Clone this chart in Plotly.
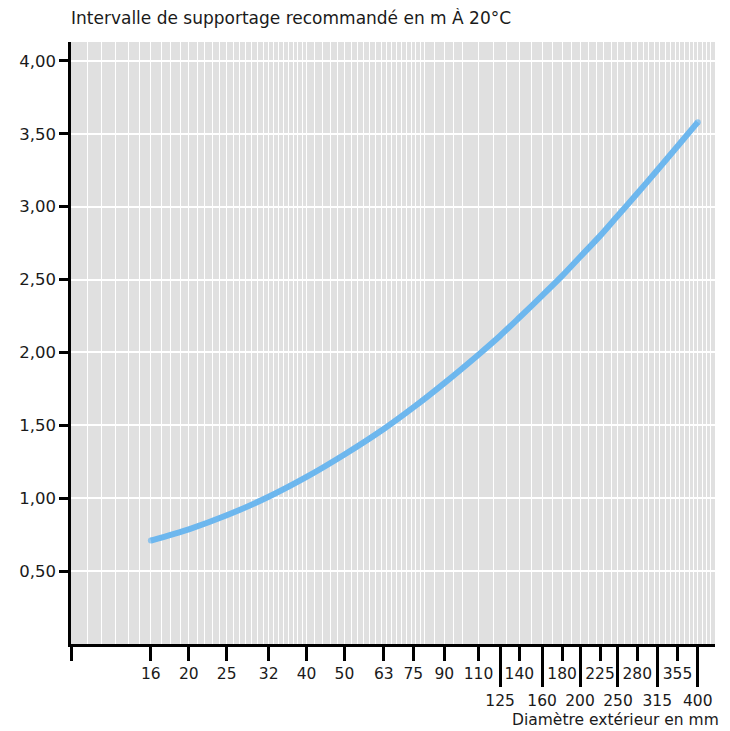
import plotly.graph_objects as go

# ---- data ----
diametres = [16, 20, 25, 32, 40, 50, 63, 75, 90, 110, 125, 140, 160, 180, 200, 225, 250, 280, 315, 355, 400]
intervalle = [0.71, 0.787, 0.883, 1.01, 1.146, 1.30, 1.475, 1.623, 1.79, 1.985, 2.115, 2.24, 2.39, 2.525,
              2.655, 2.80, 2.94, 3.09, 3.25, 3.415, 3.58]

ticks_courts = [10, 16, 20, 25, 32, 40, 50, 63, 75, 90, 110, 140, 180, 225, 280, 355]
labels_courts = ["", "16", "20", "25", "32", "40", "50", "63", "75", "90", "110", "140", "180", "225", "280", "355"]
ticks_longs = [125, 160, 200, 250, 315, 400]
labels_longs = ["125", "160", "200", "250", "315", "400"]

y_ticks = [0.5, 1.0, 1.5, 2.0, 2.5, 3.0, 3.5, 4.0]

titre_y = "Intervalle de supportage recommandé en m À 20°C"
titre_x = "Diamètre extérieur en mm"

# minor vertical grid
grille = (list(range(11, 40)) + list(range(40, 80, 2)) + [80, 85, 90, 95]
          + list(range(100, 450, 10)))

FONT = "'DejaVu Sans', Verdana, sans-serif"
TXT = "#1a1a1a"
BLUE = "#6DB7EE"
XRANGE = [1.0, 2.646]
YRANGE = [0, 4.13]

n = len(diametres)
cap_sizes = [6 if i in (0, n - 1) else 0 for i in range(n)]

fig = go.Figure()
fig.add_trace(go.Scatter(
    x=diametres, y=intervalle, mode="lines+markers",
    line=dict(color=BLUE, width=6, shape="spline", smoothing=0.7),
    marker=dict(size=cap_sizes, color=BLUE, line=dict(width=0)),
    showlegend=False, hoverinfo="x+y",
))
fig.add_trace(go.Scatter(
    x=ticks_longs, y=[None] * len(ticks_longs), xaxis="x2", mode="markers",
    showlegend=False, hoverinfo="skip", opacity=0,
))

fig.update_layout(
    width=730, height=731,
    margin=dict(l=63, r=23, t=34, b=95, autoexpand=False),
    paper_bgcolor="white",
    plot_bgcolor="#E0E0E0",
    separators=", ",
    font=dict(family=FONT, size=15, color=TXT),
    xaxis=dict(
        type="log", range=XRANGE, automargin=False,
        tickmode="array", tickvals=ticks_courts, ticktext=labels_courts,
        ticks="outside", ticklen=14, tickwidth=2.5, tickcolor="black",
        showline=True, linecolor="black", linewidth=2.5,
        showgrid=False, zeroline=False,
        tickfont=dict(size=15.5, family=FONT, color=TXT),
        minor=dict(tickmode="array", tickvals=grille, showgrid=True,
                   gridcolor="white", gridwidth=1.2, ticks=""),
    ),
    xaxis2=dict(
        type="log", range=XRANGE, overlaying="x", anchor="y", side="bottom",
        automargin=False,
        tickmode="array", tickvals=ticks_longs, ticktext=labels_longs,
        ticks="outside", ticklen=42, tickwidth=2.5, tickcolor="black",
        showline=False, showgrid=False, zeroline=False,
        tickfont=dict(size=15.5, family=FONT, color=TXT),
    ),
    yaxis=dict(
        range=YRANGE, tickmode="array", tickvals=y_ticks, tickformat=".2f",
        automargin=False,
        ticks="outside", ticklen=9, tickwidth=2.5, tickcolor="black",
        showline=True, linecolor="black", linewidth=2.5,
        showgrid=True, gridcolor="white", gridwidth=2,
        zeroline=False,
        tickfont=dict(size=16.5, family=FONT, color=TXT),
    ),
    annotations=[
        dict(text=titre_y, xref="paper", yref="paper", x=0, y=1,
             xanchor="left", yanchor="middle", yshift=25, xshift=-2,
             showarrow=False, font=dict(size=17, family=FONT, color=TXT)),
        dict(text=titre_x, xref="paper", yref="paper", x=1, y=0,
             xanchor="right", yanchor="middle", yshift=-76, xshift=6,
             showarrow=False, font=dict(size=15.5, family=FONT, color=TXT)),
    ],
)

fig.write_html("out.html")
